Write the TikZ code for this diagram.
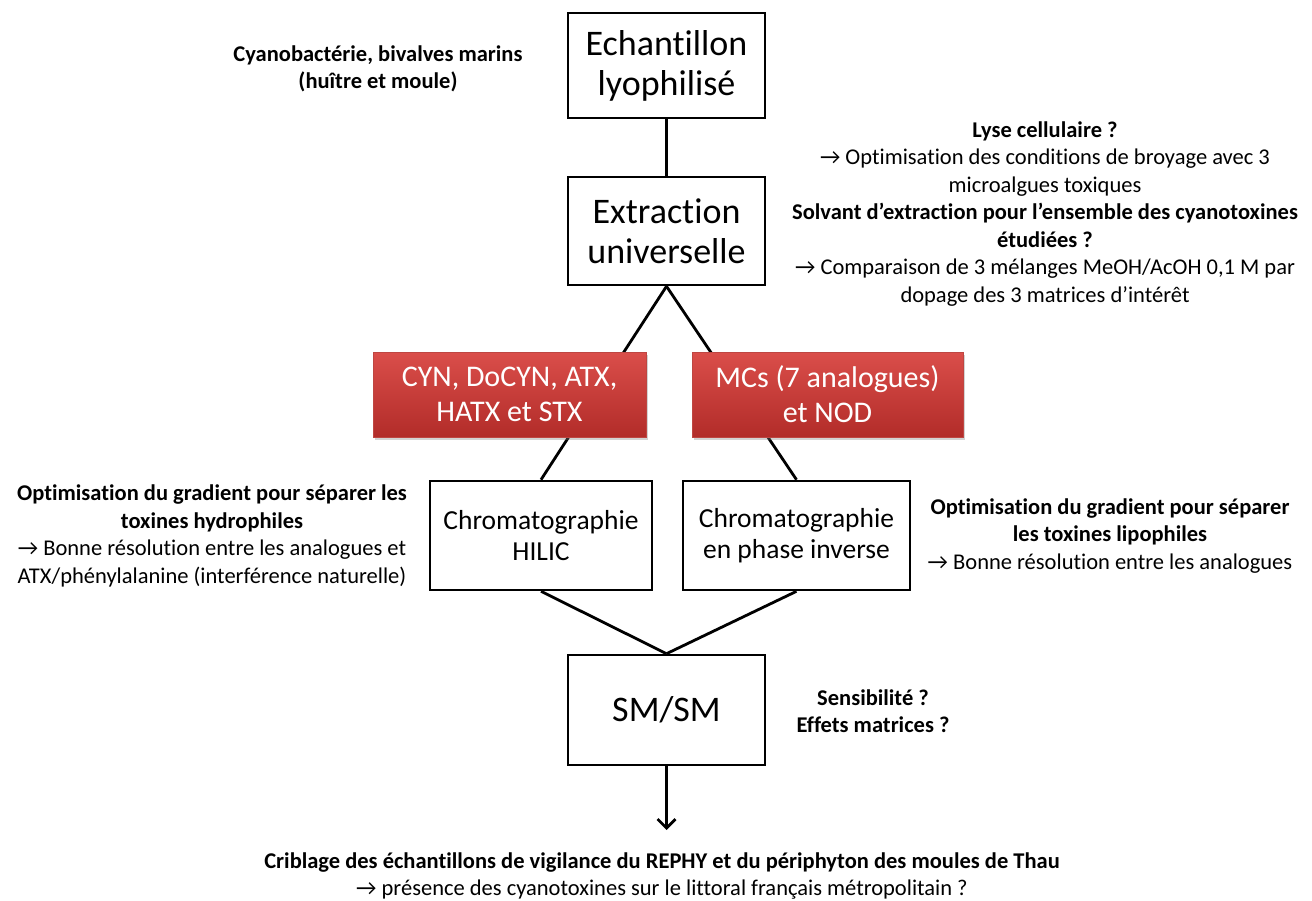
\documentclass[tikz,border=0pt]{standalone}
\usepackage{fontspec}
\setmainfont{Carlito}[Ligatures={TeX,NoCommon}]
\usetikzlibrary{arrows.meta,shadows}
\definecolor{redtop}{RGB}{218,78,74}
\definecolor{redbot}{RGB}{178,44,41}
\definecolor{redline}{RGB}{190,70,66}
\tikzset{
  wbox/.style={draw=black, line width=2.6pt, fill=white, align=center, inner sep=0pt, font=\fontsize{36}{40}\selectfont},
  chbox/.style={wbox, font=\fontsize{27.5}{31}\selectfont},
  rbox/.style={draw=redline, line width=0.8pt, top color=redtop, bottom color=redbot, text=white, align=center, inner sep=0pt, minimum height=85pt, font=\fontsize{30}{35}\selectfont, drop shadow={opacity=0.35, shadow xshift=1.5pt, shadow yshift=-2.5pt}},
  note/.style={align=center, inner sep=0pt, font=\fontsize{22.5}{27.5}\selectfont},
  conn/.style={line width=2.8pt, draw=black},
}
\begin{document}
\begin{tikzpicture}[x=1pt, y=-1pt]
\useasboundingbox (0,0) rectangle (1312,901);
% white boxes
\node[wbox, minimum width=197pt, minimum height=105pt] (E) at (666.5,65.5) {Echantillon\\lyophilisé};
\node[wbox, minimum width=197pt, minimum height=108pt] (X) at (666.5,231) {Extraction\\universelle};
\node[chbox, minimum width=222pt, minimum height=109pt] (H) at (541,535.5) {Chromatographie\\HILIC};
\node[chbox, minimum width=227pt, minimum height=109pt] (P) at (796.5,535.5) {Chromatographie\\en phase inverse};
\node[wbox, minimum width=197pt, minimum height=110pt] (S) at (666.5,710) {SM/SM};
\coordinate (end) at (666.5,830);
% connectors
\draw[conn] (E.south) -- (X.north);
\draw[conn] (X.south) -- (H.north);
\draw[conn] (X.south) -- (P.north);
\draw[conn] (H.south) -- (S.north);
\draw[conn] (P.south) -- (S.north);
\draw[conn, -{Straight Barb[length=9pt, width=18pt, line width=2.8pt]}] (S.south) -- (end);
% red boxes
\node[rbox, minimum width=273pt] (R1) at (509.5,394.5) {CYN, DoCYN, ATX,\\HATX et STX};
\node[rbox, minimum width=271pt] (R2) at (827.5,394.5) {MCs (7 analogues)\\et NOD};
% annotations
\node[note] (n1) at (378,69) {\textbf{Cyanobactérie, bivalves marins}\\\textbf{(huître et moule)}};
\node[note] (n2) at (1045,214) {\textbf{Lyse cellulaire ?}\\→ Optimisation des conditions de broyage avec 3\\microalgues toxiques\\\textbf{Solvant d’extraction pour l’ensemble des cyanotoxines}\\\textbf{étudiées ?}\\→ Comparaison de 3 mélanges MeOH/AcOH 0,1 M par\\dopage des 3 matrices d’intérêt};
\node[note] (n3) at (212,536) {\textbf{Optimisation du gradient pour séparer les}\\\textbf{toxines hydrophiles}\\→ Bonne résolution entre les analogues et\\ATX/phénylalanine (interférence naturelle)};
\node[note] (n4) at (1110,536) {\textbf{Optimisation du gradient pour séparer}\\\textbf{les toxines lipophiles}\\→ Bonne résolution entre les analogues};
\node[note] (n5) at (873,711) {\textbf{Sensibilité ?}\\\textbf{Effets matrices ?}};
\node[note] (n6) at (662,876) {\textbf{Criblage des échantillons de vigilance du REPHY et du périphyton des moules de Thau}\\→ présence des cyanotoxines sur le littoral français métropolitain ?};
\end{tikzpicture}
\end{document}
